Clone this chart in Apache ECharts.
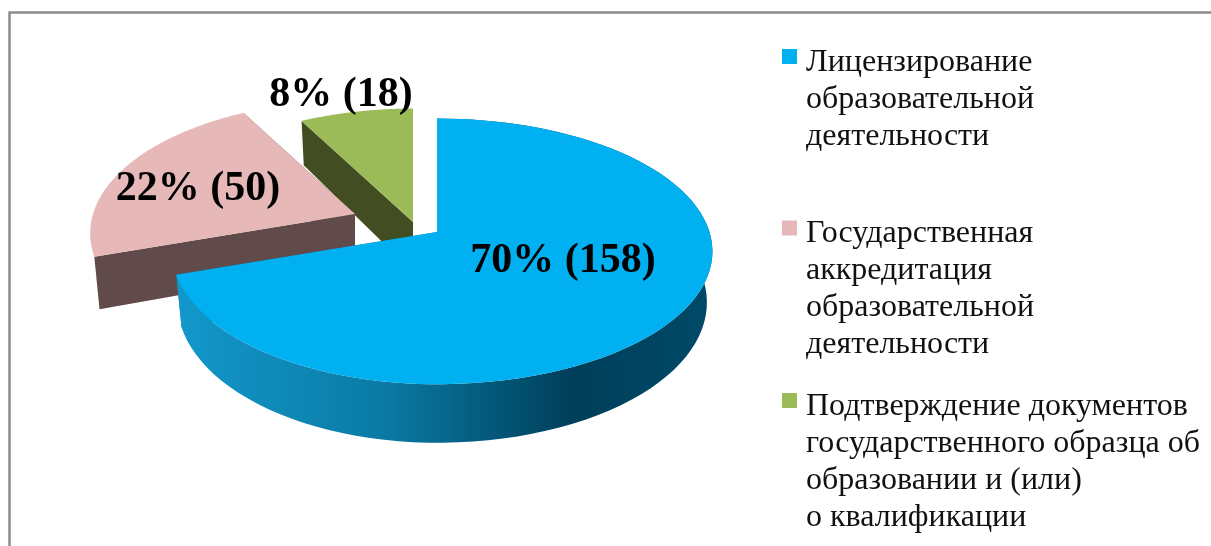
<!DOCTYPE html>
<html>
<head>
<meta charset="utf-8">
<style>
html, body { margin: 0; padding: 0; background: #fff; }
#main { width: 1211px; height: 546px; }
</style>
<script src="https://cdn.jsdelivr.net/npm/echarts@6/dist/echarts.min.js"></script>
</head>
<body>
<div id="main"></div>
<script>
var categories = [
    'Лицензирование\nобразовательной\nдеятельности',
    'Государственная\nаккредитация\nобразовательной\nдеятельности',
    'Подтверждение документов\nгосударственного образца об\nобразовании и (или)\nо квалификации'
];
var values = [158, 50, 18];
var percents = [70, 22, 8];

// look of the slices, not data
var topColors = ['#00b0f0', '#e6b9b8', '#9bbb59'];
var sideColors = ['#0a7aa6', '#604a4a', '#424d22'];
var apexes = [[437, 232], [355, 214], [413, 222]];
var labelCenters = [[563, 261], [198, 189], [341, 95]];
var legendKeyY = [56.5, 228, 400.5];

var total = values.reduce(function (a, b) { return a + b; }, 0);
var R = 262, H = 130, P = 0.146, DEPTH = 50;
var LINE = 37;

// slanted pie: u across, v towards the viewer, with a bit of perspective
function project(apex, angle, r, lower) {
    var u = Math.sin(angle) * r, v = -Math.cos(angle) * r;
    var w = 1 - P * v;
    var x = R * u / w * (u > 0 ? 1.04 : 1);
    var y = H * v / w;
    if (lower) {
        x *= 0.98;
        y += DEPTH / w;
    }
    return [apex[0] + x, apex[1] + y];
}

function arcPoints(apex, a0, a1, lower) {
    var pts = [], n = 90;
    for (var i = 0; i <= n; i++) {
        pts.push(project(apex, a0 + (a1 - a0) * i / n, 1, lower));
    }
    return pts;
}

function renderSlice(index) {
    return function () {
        var before = values.slice(0, index).reduce(function (a, b) { return a + b; }, 0);
        var a0 = before / total * Math.PI * 2;
        var a1 = (before + values[index]) / total * Math.PI * 2;
        var apex = apexes[index];
        var top = arcPoints(apex, a0, a1, false);
        var bottom = arcPoints(apex, a0, a1, true);
        var apexLow = project(apex, 0, 0, true);
        var children = [
            { type: 'polygon', shape: { points: [top[0], apex, apexLow, bottom[0]] }, style: { fill: sideColors[index] } },
            { type: 'polygon', shape: { points: [top[top.length - 1], apex, apexLow, bottom[bottom.length - 1]] }, style: { fill: sideColors[index] } }
        ];
        // only the big slice shows its outer wall
        if (index === 0) {
            children.push({
                type: 'polygon',
                shape: { points: top.concat(bottom.slice().reverse()) },
                style: {
                    fill: new echarts.graphic.LinearGradient(0, 0, 1, 0, [
                        { offset: 0, color: '#1398cb' },
                        { offset: 0.38, color: '#0a7ba6' },
                        { offset: 0.74, color: '#003f5a' },
                        { offset: 1, color: '#004a68' }
                    ])
                }
            });
        }
        children.push({ type: 'polygon', shape: { points: top.concat([apex]) }, style: { fill: topColors[index] } });
        children.push({
            type: 'text',
            z2: 100,
            style: {
                x: labelCenters[index][0],
                y: labelCenters[index][1],
                text: percents[index] + '% (' + values[index] + ')',
                fill: '#000',
                font: 'bold 42px "Liberation Serif"',
                align: 'center',
                verticalAlign: 'middle'
            }
        });
        return { type: 'group', children: children };
    };
}

var series = [2, 1, 0].map(function (i) {
    return {
        type: 'custom',
        name: categories[i],
        coordinateSystem: 'none',
        silent: true,
        z: 10 + (2 - i),
        itemStyle: { color: topColors[i] },
        data: [values[i]],
        renderItem: renderSlice(i)
    };
});

var legends = categories.map(function (name, i) {
    var lines = name.split('\n').length;
    return {
        left: 782,
        // key sits 6px above the middle of its item box
        top: legendKeyY[i] + 6 - (2 * lines - 1) * LINE / 2,
        orient: 'vertical',
        selectedMode: false,
        itemWidth: 15,
        itemHeight: 27,
        itemGap: 0,
        padding: 0,
        icon: 'path://M0 0H15V15H0Z M0 27L0 27',
        data: [{ name: name, itemStyle: { color: topColors[i] } }],
        formatter: function (n) {
            // blank lines above keep the key level with the first line
            return new Array(lines).join('\n') + n;
        },
        textStyle: {
            fontFamily: 'Liberation Serif',
            fontSize: 32,
            lineHeight: LINE,
            padding: [0, 0, 0, 4],
            color: '#111'
        }
    };
});

var chart = echarts.init(document.getElementById('main'));
chart.setOption({
    animation: false,
    backgroundColor: '#fff',
    graphic: [{
        type: 'rect',
        shape: { x: 9.5, y: 12.5, width: 1400, height: 700 },
        style: { fill: 'none', stroke: '#8c8c8c', lineWidth: 2.5 }
    }],
    legend: legends,
    series: series
});
</script>
</body>
</html>
